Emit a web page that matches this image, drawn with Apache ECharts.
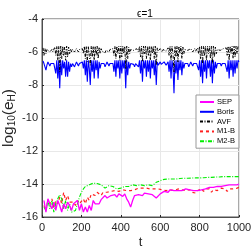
<!DOCTYPE html>
<html><head><meta charset="utf-8">
<script src="https://cdn.jsdelivr.net/npm/echarts@6/dist/echarts.min.js"></script>
<style>html,body{margin:0;padding:0;background:#fff}#c{width:251px;height:251px}</style>
</head><body><div id="c"></div>
<script>
const titleText = 'ϵ=1';
const xTicks = [0, 200, 400, 600, 800, 1000];
const yTicks = [-16, -14, -12, -10, -8, -6, -4];
const seriesNames = ['SEP', 'Boris', 'AVF', 'M1-B', 'M2-B'];

// upper series sampled every 5 time units, starting at t = 5
const tStartUpper = 5, tStepUpper = 5;
const boris = [
 -6.55,-6.7,-6.9,-7.1,-6.8,-6.6,-6.7,-6.85,-6.7,-6.6,-6.75,-6.7,
 -6.6,-7.3,-6.5,-7.6,-6.5,-8.2,-6.5,-7.4,-6.5,-7.0,-6.6,-7.5,-6.5,-7.5,-6.6,-7.2,-6.7,-6.9,
 -6.7,-6.8,-6.9,-6.75,-6.6,-6.7,-6.85,-6.7,-6.6,-6.7,-6.6,
 -7.0,-6.5,-7.4,-6.5,-7.8,-6.5,-7.0,-8.0,-6.5,-7.2,-6.5,-7.6,-6.5,-7.1,-6.5,-7.6,-6.6,-7.0,-6.7,
 -6.8,-6.65,-6.7,-6.9,-6.75,-6.6,-6.7,-6.85,-6.7,-6.6,-6.75,
 -6.7,-7.2,-6.5,-7.5,-6.5,-7.0,-6.5,-7.6,-6.5,-7.3,-6.5,-7.0,-6.5,-8.2,-6.5,-7.4,-6.6,-7.0,
 -6.7,-6.8,-6.6,-6.75,-6.9,-6.7,-6.6,-6.7,
 -6.9,-6.5,-7.3,-6.5,-7.8,-6.5,-7.0,-6.5,-7.5,-6.5,-7.2,-6.5,-7.6,-6.5,-7.0,-6.5,-7.4,-6.5,-8.0,-6.6,
 -6.8,-6.7,-6.6,-6.75,-6.85,-6.7,-6.6,-6.7,-6.8,-6.7,
 -6.6,-7.2,-6.5,-7.6,-6.5,-7.0,-8.5,-6.5,-7.3,-6.5,-7.7,-6.5,-7.1,-6.5,-7.4,-6.6,-7.0,
 -6.7,-6.8,-6.65,-6.7,-6.9,-6.75,-6.6,-6.7,-6.85,-6.7,-6.6,-6.75,-6.7,
 -6.6,-7.1,-6.5,-7.5,-6.5,-7.9,-6.5,-7.2,-6.5,-7.6,-6.5,-7.0,-6.5,-7.5,-6.5,-7.9,-6.5,-7.3,-6.6,-7.0,
 -6.7,-6.8,-6.6,-6.7,-6.85,-6.7,-6.6,-6.75,-6.7,
 -6.6,-7.2,-6.5,-7.6,-6.5,-7.1,-6.5,-7.5,-6.5,-7.3,-6.5,-7.0,-6.5,-6.6
];
const avf = [
 -5.75,-6.2,-5.8,-6.1,-5.85,-5.95,-5.8,-6.0,-5.9,-5.85,-6.0,-5.9,
 -5.7,-6.2,-5.65,-6.5,-5.65,-7.2,-5.65,-6.4,-5.65,-6.2,-5.7,-6.5,-5.65,-6.3,-5.7,-6.1,-5.8,-6.0,
 -5.85,-5.95,-6.0,-5.9,-5.8,-5.9,-6.0,-5.85,-5.8,-5.9,-5.8,
 -6.1,-5.65,-6.4,-5.65,-6.6,-5.65,-6.2,-6.8,-5.65,-6.3,-5.65,-6.5,-5.65,-6.2,-5.65,-6.4,-5.7,-6.1,-5.8,
 -5.95,-5.85,-5.9,-6.05,-5.9,-5.8,-5.9,-6.0,-5.85,-5.8,-5.9,
 -5.8,-6.2,-5.65,-6.4,-5.65,-6.1,-5.65,-6.5,-5.65,-6.3,-5.65,-6.1,-5.65,-7.0,-5.65,-6.4,-5.7,-6.1,
 -5.85,-5.95,-5.8,-5.9,-6.0,-5.85,-5.8,-5.9,
 -6.0,-5.65,-6.3,-5.65,-6.6,-5.65,-6.1,-5.65,-6.4,-5.65,-6.2,-5.65,-6.5,-5.65,-6.1,-5.65,-6.4,-5.65,-6.8,-5.75,
 -5.95,-5.85,-5.8,-5.9,-6.0,-5.85,-5.8,-5.9,-5.95,-5.85,
 -5.75,-6.2,-5.65,-6.5,-5.65,-6.1,-7.2,-5.65,-6.3,-5.65,-6.6,-5.65,-6.1,-5.65,-6.4,-5.7,-6.1,
 -5.85,-5.95,-5.8,-5.9,-6.0,-5.9,-5.8,-5.85,-6.0,-5.9,-5.8,-5.95,-5.85,
 -5.75,-6.1,-5.65,-6.4,-5.65,-6.7,-5.65,-6.2,-5.65,-6.5,-5.65,-6.1,-5.65,-6.4,-5.65,-6.7,-5.65,-6.3,-5.7,-6.1,
 -5.85,-5.95,-5.8,-5.9,-6.0,-5.85,-5.8,-5.9,-5.85,
 -5.75,-6.2,-5.65,-6.5,-5.65,-6.1,-5.65,-6.4,-5.65,-6.3,-5.65,-6.1,-5.65,-5.7
];

// lower series sampled every 10 time units, starting at t = 10
const tStartLower = 10, tStepLower = 10;
const sep = [
 -15.0,-15.7,-14.9,-14.8,-15.5,-15.1,-15.6,-15.0,-15.3,-15.7,
 -15.2,-15.5,-15.1,-15.3,-15.6,-15.2,-15.3,-15.0,-15.6,-15.2,
 -15.7,-15.4,-15.7,-15.3,-15.6,-15.0,-15.2,-15.1,-15.2,-14.95,
 -14.9,-14.7,-14.85,-14.8,-14.7,-14.8,-14.65,-14.8,-14.6,-14.7,
 -14.75,-14.6,-14.9,-15.1,-15.4,-15.0,-14.7,-14.6,-14.65,-14.6,
 -14.7,-14.55,-14.65,-14.6,-14.7,-14.65,-14.6,-14.85,-14.8,-14.6,
 -14.5,-14.45,-14.4,-14.5,-14.35,-14.45,-14.4,-14.35,-14.4,-14.3,
 -14.4,-14.35,-14.3,-14.4,-14.35,-14.45,-14.4,-14.35,-14.4,-14.4,
 -14.35,-14.3,-14.3,-14.25,-14.2,-14.25,-14.2,-14.2,-14.15,-14.15,
 -14.15,-14.1,-14.1,-14.1,-14.05,-14.1,-14.05,-14.05,-14.05,-14.0
];
const m1b = [
 -15.3,-15.6,-15.0,-15.2,-14.9,-15.4,-15.0,-15.2,-14.8,-15.2,
 -14.5,-15.0,-14.7,-15.1,-15.2,-15.1,-15.3,-15.0,-15.2,-15.1,
 -14.9,-15.2,-14.8,-15.0,-14.6,-14.5,-14.7,-14.5,-14.6,-14.7,
 -14.5,-14.6,-14.5,-14.55,-14.45,-14.5,-14.4,-14.5,-14.45,-14.4,
 -14.35,-14.45,-14.4,-14.35,-14.4,-14.3,-14.35,-14.3,-14.25,-14.3,
 -14.25,-14.3,-14.25,-14.3,-14.3,-14.25,-14.3,-14.35,-14.3,-14.3,
 -14.35,-14.3,-14.4,-14.3,-14.35,-14.3,-14.4,-14.35,-14.3,-14.4,
 -14.35,-14.3,-14.4,-14.45,-14.35,-14.5,-14.4,-14.55,-14.4,-14.35,
 -14.3,-14.45,-14.3,-14.4,-14.3,-14.5,-14.35,-14.3,-14.4,-14.3,
 -14.25,-14.35,-14.3,-14.45,-14.3,-14.25,-14.3,-14.2,-14.25,-14.2
];
const m2b = [
 -15.4,-15.6,-15.0,-15.5,-15.0,-15.7,-15.2,-14.9,-14.65,-14.9,
 -15.5,-15.0,-15.6,-15.2,-15.7,-15.6,-15.6,-15.2,-14.8,-14.5,
 -14.3,-14.15,-14.1,-14.05,-14.0,-13.95,-13.93,-13.97,-14.0,-14.05,
 -14.15,-14.25,-14.2,-14.1,-14.05,-14.15,-14.2,-14.3,-14.3,-14.25,
 -14.2,-14.15,-14.2,-14.15,-14.1,-14.05,-14.05,-14.1,-14.1,-14.05,
 -14.05,-14.1,-14.1,-14.05,-14.1,-14.1,-14.0,-13.9,-13.85,-13.8,
 -13.75,-13.72,-13.72,-13.7,-13.7,-13.7,-13.68,-13.7,-13.68,-13.67,
 -13.67,-13.65,-13.66,-13.65,-13.65,-13.64,-13.64,-13.63,-13.63,-13.63,
 -13.62,-13.62,-13.6,-13.6,-13.6,-13.6,-13.6,-13.58,-13.58,-13.58,
 -13.56,-13.55,-13.55,-13.55,-13.56,-13.55,-13.55,-13.55,-13.56,-13.55
];

function pairs(vals, t0, dt) { return vals.map((v, i) => [t0 + i * dt, v]); }

const font = 'Liberation Sans, Arial, Helvetica, sans-serif';
const chart = echarts.init(document.getElementById('c'), null, {renderer: 'canvas'});
chart.setOption({
  animation: false,
  backgroundColor: '#fff',
  title: {text: titleText, left: 140, top: 4, textAlign: 'center',
    textStyle: {fontSize: 10, fontWeight: 'normal', color: '#000', fontFamily: font}},
  grid: {left: 42, right: 12, top: 19, bottom: 34, outerBoundsMode: 'none', containLabel: false,
    show: true, borderColor: '#262626', borderWidth: 0.8, backgroundColor: 'transparent'},
  legend: {
    orient: 'vertical', left: 196, top: 95, width: 44,
    data: seriesNames, itemWidth: 14, itemHeight: 6, itemGap: 1.8,
    padding: [3, 4, 3, 3], borderColor: '#999', borderWidth: 1, backgroundColor: '#fff',
    itemStyle: {opacity: 0},
    textStyle: {fontSize: 7.5, color: '#000', fontFamily: font, padding: [0, 0, 0, -2]}
  },
  xAxis: {
    type: 'value', min: xTicks[0], max: xTicks[xTicks.length - 1], interval: 200,
    name: 't', nameLocation: 'middle', nameGap: 19, nameMoveOverlap: false,
    nameTextStyle: {fontSize: 13, color: '#262626', fontFamily: font},
    axisLine: {lineStyle: {color: '#262626', width: 0.8}},
    axisTick: {inside: true, length: 2, lineStyle: {color: '#262626'}},
    axisLabel: {fontSize: 11, color: '#262626', fontFamily: font, margin: 5, formatter: v => String(v)},
    splitLine: {show: true, lineStyle: {color: '#e8e8e8', width: 1}}
  },
  yAxis: {
    type: 'value', min: yTicks[0], max: yTicks[yTicks.length - 1], interval: 2,
    name: '{n|log}{s|10}{n|(e}{s|H}{n|)}', nameLocation: 'middle', nameGap: 25, nameMoveOverlap: false,
    nameTextStyle: {color: '#262626', fontFamily: font,
      rich: {n: {fontSize: 15.5, color: '#262626', fontFamily: font},
             s: {fontSize: 10, color: '#262626', fontFamily: font, padding: [7, 0, 0, 0]}}},
    axisLine: {lineStyle: {color: '#262626', width: 0.8}},
    axisTick: {inside: true, length: 2, lineStyle: {color: '#262626'}},
    axisLabel: {fontSize: 11, color: '#262626', fontFamily: font, margin: 4},
    splitLine: {show: true, lineStyle: {color: '#e8e8e8', width: 1}}
  },
  series: [
    {name: 'SEP', type: 'line', symbol: 'none', z: 5, data: pairs(sep, tStartLower, tStepLower),
      lineStyle: {color: '#ff00ff', width: 1.3}, itemStyle: {color: '#ff00ff'}},
    {name: 'Boris', type: 'line', symbol: 'none', z: 3, data: pairs(boris, tStartUpper, tStepUpper),
      lineStyle: {color: '#0000ff', width: 1.1}, itemStyle: {color: '#0000ff'}},
    {name: 'AVF', type: 'line', symbol: 'none', z: 4, data: pairs(avf, tStartUpper, tStepUpper),
      lineStyle: {color: '#000000', width: 1, type: [3, 1.5, 1, 1.5]}, itemStyle: {color: '#000'}},
    {name: 'M1-B', type: 'line', symbol: 'none', z: 4, data: pairs(m1b, tStartLower, tStepLower),
      lineStyle: {color: '#ff2020', width: 1.2, type: [3, 3]}, itemStyle: {color: '#ff2020'}},
    {name: 'M2-B', type: 'line', symbol: 'none', z: 4, data: pairs(m2b, tStartLower, tStepLower),
      lineStyle: {color: '#00ee00', width: 1.1, type: [4, 1.5, 1, 1.5]}, itemStyle: {color: '#00ee00'}}
  ]
});
</script></body></html>
